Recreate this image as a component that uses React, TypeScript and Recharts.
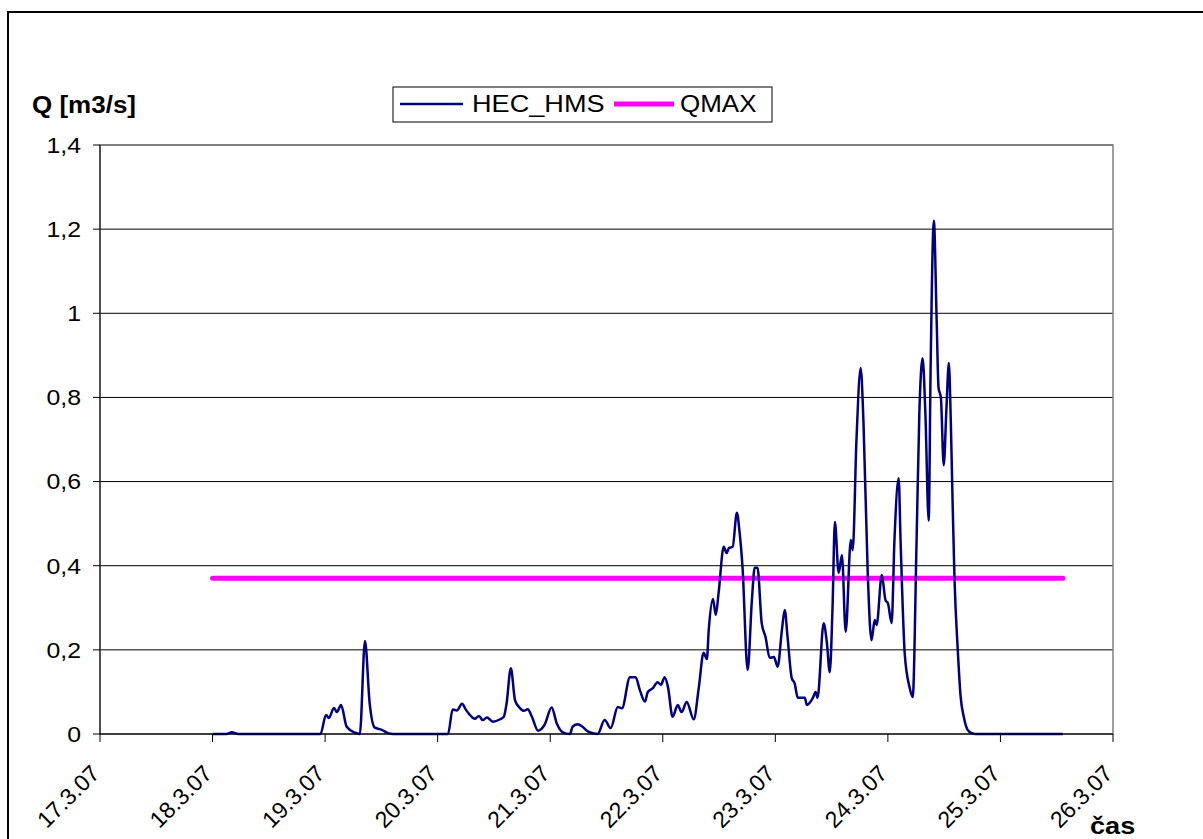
import React from 'react';
import {
  LineChart,
  Line,
  XAxis,
  YAxis,
  CartesianGrid,
  ReferenceArea,
} from 'recharts';

// time in hours from 17.3.07 00:00, flow in m3/s
const hecHours = [
  24, 27, 28.1, 29.5, 47, 48.2, 48.8, 49.9, 50.5, 51.4, 52.6, 54.4, 55.4, 56.5,
  57.5, 58.6, 60.1, 61.4, 62.5, 74.2, 75.2, 76.1, 77.2, 78.0, 78.9, 79.9, 80.8,
  81.6, 82.5, 83.8, 85.3, 86.1, 86.7, 87.6, 88.5, 89.5, 90.4, 91.2, 92.1, 93.4,
  94.8, 96.3, 97.4, 98.7, 100.2, 100.8, 101.9, 102.9, 104.0, 106.1, 107.6,
  108.9, 110.4, 111.3, 113.0, 114.2, 115.1, 116.2, 116.8, 117.9, 118.9, 119.6,
  120.4, 121.1, 122.1, 123.2, 124.0, 125.1, 126.6, 127.7, 128.7, 129.4, 129.8,
  130.7, 131.3, 131.9, 133.0, 133.6, 134.1, 134.9, 135.8, 136.4, 137.0, 138.1,
  139.0, 139.6, 140.2, 141.1, 141.9, 142.8, 143.7, 144.5, 145.4, 146.0, 146.6,
  147.5, 148.1, 148.8, 150.3, 150.7, 152.0, 152.6, 153.0, 154.3, 155.0, 155.6,
  156.2, 156.7, 157.5, 158.2, 159.0, 160.1, 160.5, 161.3, 162.2, 162.8, 163.7,
  164.5, 165.2, 165.6, 166.7, 167.5, 168.0, 168.8, 169.4, 170.3, 170.7, 171.6,
  172.6, 173.3, 174.1, 174.7, 175.4, 176.0, 176.7, 177.1, 177.8, 178.4, 178.8,
  179.3, 179.9, 180.5, 181.0, 181.4, 181.8, 182.2, 182.9, 183.5, 184.2, 185.0,
  185.9, 186.7, 205.3,
];
const hecFlow = [
  0, 0, 0.004, 0, 0, 0.045, 0.038, 0.062, 0.052, 0.069, 0.017, 0.003, 0, 0.221,
  0.073, 0.015, 0.01, 0.002, 0, 0, 0.058, 0.056, 0.072, 0.058, 0.045, 0.036,
  0.043, 0.033, 0.039, 0.029, 0.035, 0.041, 0.073, 0.156, 0.08, 0.062, 0.055,
  0.059, 0.041, 0.008, 0.022, 0.063, 0.025, 0.004, 0, 0.018, 0.023, 0.017,
  0.006, 0, 0.033, 0.014, 0.064, 0.061, 0.135, 0.135, 0.105, 0.077, 0.1, 0.109,
  0.123, 0.117, 0.135, 0.112, 0.041, 0.069, 0.052, 0.076, 0.035, 0.112, 0.193,
  0.178, 0.247, 0.321, 0.283, 0.335, 0.445, 0.43, 0.442, 0.445, 0.526, 0.477,
  0.397, 0.152, 0.318, 0.395, 0.395, 0.263, 0.231, 0.181, 0.183, 0.16, 0.247,
  0.295, 0.231, 0.133, 0.121, 0.086, 0.086, 0.069, 0.086, 0.1, 0.086, 0.263,
  0.216, 0.147, 0.302, 0.504, 0.383, 0.425, 0.243, 0.461, 0.437, 0.699, 0.87,
  0.739, 0.383, 0.223, 0.271, 0.259, 0.378, 0.318, 0.311, 0.264, 0.461, 0.608,
  0.461, 0.19, 0.112, 0.088, 0.45, 0.76, 0.893, 0.76, 0.507, 0.86, 1.22, 0.983,
  0.823, 0.8, 0.639, 0.778, 0.882, 0.75, 0.55, 0.37, 0.2, 0.09, 0.04, 0.01,
  0.002, 0, 0,
];

const qmaxHours = [24, 205.3];
const qmaxFlow = [0.37, 0.37];

const xTicks = [0, 24, 48, 72, 96, 120, 144, 168, 192, 216];
const xTickLabels = [
  '17.3.07', '18.3.07', '19.3.07', '20.3.07', '21.3.07',
  '22.3.07', '23.3.07', '24.3.07', '25.3.07', '26.3.07',
];
const yTicks = [0, 0.2, 0.4, 0.6, 0.8, 1, 1.2, 1.4];

const seriesNames = ['HEC_HMS', 'QMAX'];
const seriesColors = ['#000080', '#ff00ff'];

const FONT = '"Liberation Sans", Arial, sans-serif';
const SX = 1.13; // horizontal texts in the original are a bit wider

const hecData = hecHours.map((t, i) => ({ t, q: hecFlow[i] }));
const qmaxData = qmaxHours.map((t, i) => ({ t, q: qmaxFlow[i] }));

function formatY(v: number) {
  return String(Number(v.toFixed(1))).replace('.', ',');
}

function XTick(props: any) {
  const { x, y, payload } = props;
  const label = xTickLabels[xTicks.indexOf(payload.value)];
  return (
    <g transform={`translate(${x + 1},${y + 31}) rotate(-45)`}>
      <text x={0} y={0} textAnchor="end" fontSize={23} fontFamily={FONT} fill="#000">
        {label}
      </text>
    </g>
  );
}

function YTick(props: any) {
  const { x, y, payload } = props;
  return (
    <g transform={`translate(${x - 10},${y}) scale(${SX},1)`}>
      <text x={0} y={0} dy="0.36em" textAnchor="end" fontSize={22} fontFamily={FONT} fill="#000">
        {formatY(payload.value)}
      </text>
    </g>
  );
}

function LegendBox() {
  return (
    <svg
      width={381}
      height={37}
      style={{ position: 'absolute', left: 392, top: 86 }}
    >
      <rect x={1} y={1} width={379} height={35} fill="#fff" stroke="#000" strokeWidth={1} />
      <line x1={8} x2={71} y1={18} y2={18} stroke={seriesColors[0]} strokeWidth={2.5} />
      <text
        transform={`translate(80,26) scale(${SX},1)`}
        fontSize={24}
        fontFamily={FONT}
        fill="#000"
      >
        {seriesNames[0]}
      </text>
      <line x1={222} x2={282} y1={18} y2={18} stroke={seriesColors[1]} strokeWidth={5} />
      <text
        transform={`translate(288,26) scale(${SX},1)`}
        fontSize={23}
        fontFamily={FONT}
        fill="#000"
      >
        {seriesNames[1]}
      </text>
    </svg>
  );
}

export default function App() {
  return (
    <div
      style={{
        position: 'fixed',
        left: 0,
        top: 0,
        width: 1203,
        height: 839,
        overflow: 'hidden',
        background: '#fff',
      }}
    >
      <div
        style={{
          position: 'absolute',
          left: 7,
          top: 11,
          width: 1300,
          height: 900,
          border: '2px solid #000',
        }}
      />
      <LineChart
        width={1203}
        height={839}
        margin={{ top: 145, right: 90, bottom: 45, left: 40 }}
        style={{ position: 'absolute', left: 0, top: 0 }}
      >
        <CartesianGrid vertical={false} stroke="#000" strokeWidth={1} />
        <ReferenceArea
          x1={0}
          x2={216}
          y1={0}
          y2={1.4}
          fill="none"
          stroke="#808080"
          strokeWidth={1.5}
          ifOverflow="visible"
        />
        <XAxis
          dataKey="t"
          type="number"
          domain={[0, 216]}
          ticks={xTicks}
          interval={0}
          height={60}
          stroke="#000"
          tickSize={8}
          tick={<XTick />}
          allowDuplicatedCategory={false}
        />
        <YAxis
          dataKey="q"
          type="number"
          domain={[0, 1.4]}
          ticks={yTicks}
          interval={0}
          width={60}
          stroke="#000"
          tickSize={7}
          tick={<YTick />}
        />
        <Line
          data={qmaxData}
          dataKey="q"
          name={seriesNames[1]}
          type="linear"
          stroke={seriesColors[1]}
          strokeWidth={5}
          strokeLinecap="round"
          dot={false}
          isAnimationActive={false}
        />
        <Line
          data={hecData}
          dataKey="q"
          name={seriesNames[0]}
          type="monotone"
          stroke={seriesColors[0]}
          strokeWidth={2.5}
          dot={false}
          isAnimationActive={false}
        />
      </LineChart>
      <LegendBox />
      <div
        style={{
          position: 'absolute',
          left: 32,
          top: 92,
          fontFamily: FONT,
          fontWeight: 'bold',
          fontSize: 23,
          transform: `scaleX(${SX})`,
          transformOrigin: 'left top',
          whiteSpace: 'nowrap',
        }}
      >
        Q [m3/s]
      </div>
      <div
        style={{
          position: 'absolute',
          left: 1090,
          top: 812,
          fontFamily: FONT,
          fontWeight: 'bold',
          fontSize: 24,
          transform: `scaleX(${SX})`,
          transformOrigin: 'left top',
          whiteSpace: 'nowrap',
        }}
      >
        čas
      </div>
    </div>
  );
}
